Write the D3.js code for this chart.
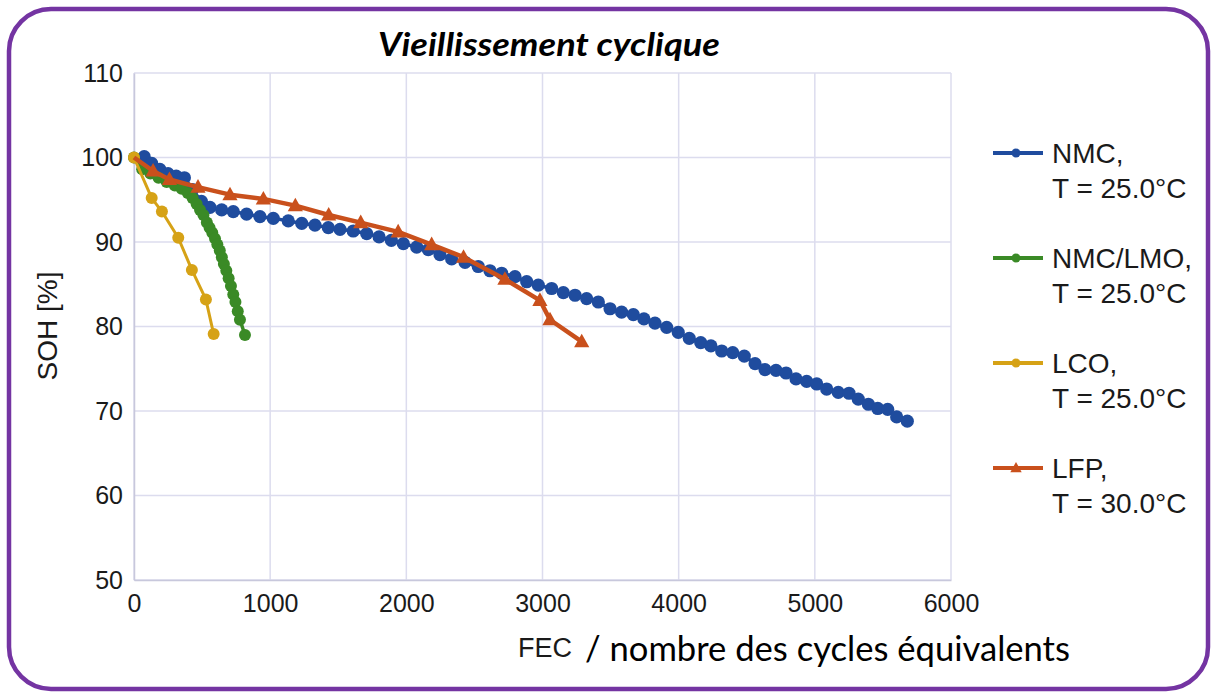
<!DOCTYPE html>
<html>
<head>
<meta charset="utf-8">
<script src="https://cdn.jsdelivr.net/npm/d3@7"></script>
<style>
  body { margin: 0; background: #fff; }
  svg { display: block; }
</style>
</head>
<body>
<div id="chart"></div>
<script>
'use strict';

// SOH [%] versus equivalent full cycles
var nmc = [[75,100.1],[130,99.3],[190,98.6],[250,98.1],[310,97.8],[370,97.6],[430,96.2],[495,94.8],
    [558,94.1],[644,93.8],[729,93.6],[827,93.3],[925,93.0],[1023,92.8],[1133,92.5],[1232,92.2],
    [1329,92.0],[1427,91.7],[1513,91.5],[1610,91.3],[1709,91.0],[1800,90.6],[1890,90.2],[1978,89.8],
    [2076,89.4],[2161,89.1],[2247,88.5],[2333,88.0],[2431,87.6],[2528,87.1],[2614,86.6],[2700,86.3],
    [2798,85.9],[2884,85.3],[2969,84.9],[3067,84.5],[3153,84.0],[3239,83.7],[3324,83.3],[3410,82.9],
    [3496,82.1],[3581,81.7],[3667,81.4],[3745,80.9],[3826,80.4],[3912,79.9],[3997,79.3],[4078,78.6],
    [4162,78.1],[4237,77.7],[4316,77.1],[4397,76.9],[4482,76.5],[4561,75.6],[4634,74.9],[4715,74.8],
    [4789,74.5],[4862,73.8],[4940,73.5],[5014,73.2],[5087,72.6],[5172,72.2],[5251,72.1],[5319,71.4],
    [5393,70.8],[5462,70.3],[5535,70.2],[5601,69.3],[5679,68.8]];

var nmcLmo = [[0,100],[60,98.6],[120,98.1],[180,97.6],[240,97.1],[300,96.7],[350,96.3],[395,95.8],
    [430,95.2],[460,94.5],[485,93.8],[510,93.2],[535,92.3],[555,91.7],[575,91.1],[595,90.4],
    [612,89.7],[630,89.0],[645,88.2],[660,87.4],[678,86.6],[695,85.7],[712,84.8],[729,83.8],
    [745,82.9],[762,81.8],[778,80.8],[815,79.0]];

var lco = [[0,100],[130,95.2],[205,93.6],[325,90.5],[425,86.7],[528,83.2],[585,79.1]];

var lfp = [[0,100],[140,98.4],[260,97.4],[470,96.5],[705,95.6],[950,95.1],[1185,94.3],[1430,93.2],
    [1665,92.3],[1940,91.2],[2186,89.7],[2420,88.2],[2724,85.6],[2981,83.1],[3055,80.8],[3288,78.2]];

var xTicks = [0, 1000, 2000, 3000, 4000, 5000, 6000];
var yTicks = [50, 60, 70, 80, 90, 100, 110];

var series = [
    {name: 'NMC,', temp: 'T = 25.0°C', data: nmc, color: '#1f4c9e', marker: 'circle', r: 6.6, width: 3.5},
    {name: 'NMC/LMO,', temp: 'T = 25.0°C', data: nmcLmo, color: '#3a8a26', marker: 'circle', r: 6, width: 3.5},
    {name: 'LCO,', temp: 'T = 25.0°C', data: lco, color: '#d6a216', marker: 'circle', r: 6, width: 3},
    {name: 'LFP,', temp: 'T = 30.0°C', data: lfp, color: '#c9501c', marker: 'triangle', r: 8, width: 4.5}
];

var W = 1217, H = 698;
var PLOT = {LEFT: 134, RIGHT: 951, TOP: 73, BOTTOM: 580};
var GRID = '#dcdcee';
var SANS = '"Liberation Sans", Arial, sans-serif';

var svg = d3.select('#chart').append('svg')
    .attr('width', W)
    .attr('height', H);

svg.append('rect')
    .attr('x', 9).attr('y', 9)
    .attr('width', W - 18).attr('height', H - 18)
    .attr('rx', 42).attr('ry', 42)
    .attr('fill', '#fff')
    .attr('stroke', '#7434a2')
    .attr('stroke-width', 4.5);

var x = d3.scaleLinear().domain([0, 6000]).range([PLOT.LEFT, PLOT.RIGHT]);
var y = d3.scaleLinear().domain([50, 110]).range([PLOT.BOTTOM, PLOT.TOP]);

// grid
var grid = svg.append('g').attr('class', 'grid');
grid.selectAll('.vx').data(xTicks).enter().append('line')
    .attr('x1', function (d) { return x(d); })
    .attr('x2', function (d) { return x(d); })
    .attr('y1', PLOT.TOP).attr('y2', PLOT.BOTTOM)
    .attr('stroke', GRID).attr('stroke-width', 1.5);
grid.selectAll('.hy').data(yTicks).enter().append('line')
    .attr('y1', function (d) { return y(d); })
    .attr('y2', function (d) { return y(d); })
    .attr('x1', PLOT.LEFT).attr('x2', PLOT.RIGHT)
    .attr('stroke', GRID).attr('stroke-width', 1.5);

// axes (labels only, lines come from the grid)
var xAxis = svg.append('g')
    .attr('transform', 'translate(0,' + PLOT.BOTTOM + ')')
    .call(d3.axisBottom(x).tickValues(xTicks).tickFormat(d3.format('d')).tickSize(0).tickPadding(14));
var yAxis = svg.append('g')
    .attr('transform', 'translate(' + PLOT.LEFT + ',0)')
    .call(d3.axisLeft(y).tickValues(yTicks).tickFormat(d3.format('d')).tickSize(0).tickPadding(11));
[xAxis, yAxis].forEach(function (a) {
    a.attr('font-family', SANS).attr('font-size', 25);
    a.select('.domain').attr('stroke', '#c8c8dc').attr('stroke-width', 1.5);
    a.selectAll('text').attr('fill', '#1a1a1a');
});

// series
var line = d3.line()
    .x(function (d) { return x(d[0]); })
    .y(function (d) { return y(d[1]); });

var tri = function (r) {
    return 'M0,' + (-r) + 'L' + (r * 0.95) + ',' + (r * 0.7) + 'L' + (-r * 0.95) + ',' + (r * 0.7) + 'Z';
};

var lines = svg.append('g').attr('class', 'series');
series.forEach(function (s) {
    var g = lines.append('g');
    g.append('path')
        .attr('d', line(s.data))
        .attr('fill', 'none')
        .attr('stroke', s.color)
        .attr('stroke-width', s.width)
        .attr('stroke-linejoin', 'round');
    if (s.marker === 'circle') {
        g.selectAll('circle').data(s.data).enter().append('circle')
            .attr('cx', function (d) { return x(d[0]); })
            .attr('cy', function (d) { return y(d[1]); })
            .attr('r', s.r)
            .attr('fill', s.color);
    } else {
        g.selectAll('path.m').data(s.data.slice(1)).enter().append('path')
            .attr('class', 'm')
            .attr('transform', function (d) { return 'translate(' + x(d[0]) + ',' + y(d[1]) + ')'; })
            .attr('d', tri(s.r))
            .attr('fill', s.color);
    }
});

// legend
var LEG = {X: 993, LEN: 50, TOP: 153, STEP: 105};
var legend = svg.append('g').attr('class', 'legend')
    .attr('font-family', SANS)
    .attr('font-size', 28)
    .attr('fill', '#1a1a1a');
series.forEach(function (s, i) {
    var ly = LEG.TOP + i * LEG.STEP;
    legend.append('line')
        .attr('x1', LEG.X).attr('x2', LEG.X + LEG.LEN)
        .attr('y1', ly).attr('y2', ly)
        .attr('stroke', s.color).attr('stroke-width', 4);
    if (s.marker === 'circle') {
        legend.append('circle').attr('cx', LEG.X + LEG.LEN / 2 - 2).attr('cy', ly).attr('r', 4.5).attr('fill', s.color);
    } else {
        legend.append('path').attr('transform', 'translate(' + (LEG.X + LEG.LEN / 2 - 2) + ',' + ly + ')')
            .attr('d', tri(6)).attr('fill', s.color);
    }
    legend.append('text').attr('x', LEG.X + 59).attr('y', ly + 10).text(s.name);
    legend.append('text').attr('x', LEG.X + 59).attr('y', ly + 45).text(s.temp);
});

// titles
svg.append('text')
    .attr('x', 378).attr('y', 56)
    .attr('textLength', 342)
    .attr('lengthAdjust', 'spacingAndGlyphs')
    .style('font-family', 'Lato, "Open Sans", sans-serif')
    .style('font-weight', 'bold')
    .style('font-style', 'italic')
    .style('font-size', '33px')
    .attr('fill', '#000')
    .text('Vieillissement cyclique');

svg.append('text')
    .attr('transform', 'translate(57,' + 326 + ') rotate(-90)')
    .attr('text-anchor', 'middle')
    .style('font-family', SANS)
    .style('font-size', '28px')
    .attr('fill', '#1a1a1a')
    .text('SOH [%]');

svg.append('text')
    .attr('x', 518).attr('y', 657)
    .style('font-family', SANS)
    .style('font-size', '27px')
    .attr('fill', '#1a1a1a')
    .text('FEC');

svg.append('text')
    .attr('x', 585).attr('y', 661)
    .attr('textLength', 485)
    .attr('lengthAdjust', 'spacingAndGlyphs')
    .style('font-family', 'Lato, "Open Sans", sans-serif')
    .style('font-size', '34px')
    .attr('fill', '#000')
    .text('/ nombre des cycles équivalents');
</script>
</body>
</html>
